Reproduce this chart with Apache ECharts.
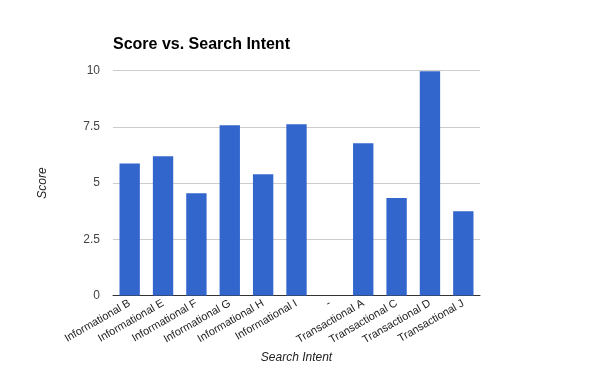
<!DOCTYPE html>
<html>
<head>
<meta charset="utf-8">
<script src="https://cdn.jsdelivr.net/npm/echarts@6/dist/echarts.min.js"></script>
<style>
html,body{margin:0;padding:0;background:#fff;}
#chart{width:593px;height:366px;}
</style>
</head>
<body>
<div id="chart"></div>
<script>
var categories = ["Informational B","Informational E","Informational F","Informational G","Informational H","Informational I","-","Transactional A","Transactional C","Transactional D","Transactional J"];
var scores = [5.87, 6.19, 4.55, 7.57, 5.39, 7.61, null, 6.77, 4.33, 9.97, 3.75];
var yTicks = [0, 2.5, 5, 7.5, 10];

var FONT = "Arial, 'Liberation Sans', sans-serif";
var chart = echarts.init(document.getElementById('chart'), null, {renderer:'canvas'});
chart.setOption({
  animation: false,
  backgroundColor: '#fff',
  title: {
    text: 'Score vs. Search Intent',
    left: 113, top: 37,
    padding: 0,
    textStyle: {fontFamily: FONT, fontSize: 16, fontWeight: 'bold', color: '#000'}
  },
  grid: {left: 113, right: 113, top: 70.5, bottom: 70.5, containLabel: false, outerBoundsMode: 'none'},
  xAxis: {
    type: 'category',
    data: categories,
    name: 'Search Intent',
    nameLocation: 'middle',
    nameGap: 55,
    nameTextStyle: {fontFamily: FONT, fontSize: 12, fontStyle: 'italic', color: '#222'},
    axisLine: {lineStyle: {color: '#333', width: 1}},
    axisTick: {show: false},
    axisLabel: {rotate: 30, interval: 0, fontFamily: FONT, fontSize: 11, color: '#222', margin: 7}
  },
  yAxis: {
    type: 'value',
    min: 0, max: 10, interval: 2.5,
    name: 'Score',
    nameLocation: 'middle',
    nameRotate: 90,
    nameGap: 64,
    nameTextStyle: {fontFamily: FONT, fontSize: 12, fontStyle: 'italic', color: '#222'},
    axisLine: {show: false},
    axisTick: {show: false},
    splitLine: {lineStyle: {color: '#ccc', width: 1}},
    axisLabel: {
      fontFamily: FONT, fontSize: 12, color: '#444', margin: 13,
      formatter: function(v){ return yTicks.indexOf(v) >= 0 ? String(v) : ''; }
    }
  },
  series: [{
    type: 'bar',
    data: scores,
    barWidth: '61%',
    itemStyle: {color: '#3366cc'}
  }]
});
</script>
</body>
</html>
